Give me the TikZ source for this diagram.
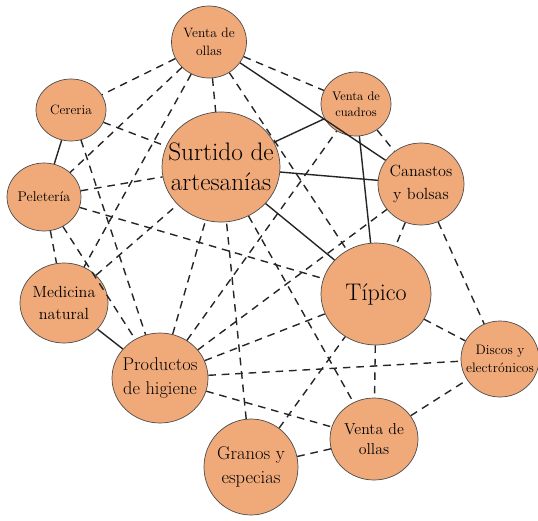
\documentclass[tikz,border=0pt]{standalone}
\usepackage{fontspec}
\usepackage{xcolor}
\usetikzlibrary{shapes.geometric}

\definecolor{stallfill}{RGB}{240,170,122}

\begin{document}
\begin{tikzpicture}[x=0.03cm, y=-0.03cm,
  stall/.style={draw=black!70, line width=0.6pt, fill=stallfill, ellipse, inner sep=0pt},
  txt/.style={align=center, text=black, inner sep=0pt},
  link/.style={line width=1.2pt, black!85},
  weak/.style={link, dash pattern=on 6.5pt off 5pt}
]
\useasboundingbox (0,0) rectangle (538,520);

% puestos
\node[stall, minimum width=2.25cm, minimum height=2.16cm] (ollas) at (209,42) {};
\node[stall, minimum width=2.1cm, minimum height=1.86cm] (cereria) at (71,110) {};
\node[stall, minimum width=3.54cm, minimum height=3.3cm] (surtido) at (221,167) {};
\node[stall, minimum width=2.22cm, minimum height=2.04cm] (peleteria) at (44,197) {};
\node[stall, minimum width=2.1cm, minimum height=1.92cm] (cuadros) at (356,104) {};
\node[stall, minimum width=2.58cm, minimum height=2.46cm] (canastos) at (421,184) {};
\node[stall, minimum width=3.3cm, minimum height=3.06cm] (tipico) at (376,294) {};
\node[stall, minimum width=2.34cm, minimum height=2.28cm] (discos) at (500,359) {};
\node[stall, minimum width=2.64cm, minimum height=2.46cm] (ollasb) at (374,439) {};
\node[stall, minimum width=2.82cm, minimum height=2.88cm] (granos) at (251,467) {};
\node[stall, minimum width=2.88cm, minimum height=2.7cm] (higiene) at (160,378) {};
\node[stall, minimum width=2.64cm, minimum height=2.4cm] (medicina) at (64,303) {};

% textos
\node[txt, font=\fontsize{11.6pt}{15pt}\selectfont] (tollas) at (ollas) {Venta de\\ollas};
\node[txt, font=\fontsize{11.5pt}{15pt}\selectfont] (tcereria) at (cereria) {Cereria};
\node[txt, font=\fontsize{21.6pt}{26pt}\selectfont] (tsurtido) at (surtido) {Surtido de\\artesanías};
\node[txt, font=\fontsize{12pt}{15pt}\selectfont] (tpeleteria) at (peleteria) {Peletería};
\node[txt, font=\fontsize{10.6pt}{14pt}\selectfont] (tcuadros) at (cuadros) {Venta de\\cuadros};
\node[txt, font=\fontsize{13.8pt}{19pt}\selectfont] (tcanastos) at (canastos) {Canastos\\y bolsas};
\node[txt, font=\fontsize{20.5pt}{26pt}\selectfont] (ttipico) at (tipico) {Típico};
\node[txt, font=\fontsize{11.7pt}{15.5pt}\selectfont] (tdiscos) at (discos) {Discos y\\electrónicos};
\node[txt, font=\fontsize{13.5pt}{17.5pt}\selectfont] (tollasb) at (ollasb) {Venta de\\ollas};
\node[txt, font=\fontsize{15.8pt}{20.5pt}\selectfont] (tgranos) at (granos) {Granos y\\especias};
\node[txt, font=\fontsize{15.7pt}{20pt}\selectfont] (thigiene) at (higiene) {Productos\\de higiene};
\node[txt, font=\fontsize{13.8pt}{18pt}\selectfont] (tmedicina) at (medicina) {Medicina\\natural};

% vinculos fuertes
\foreach \a/\b in {cereria/peleteria, medicina/higiene, ollas/canastos, surtido/cuadros,
                   surtido/canastos, cuadros/tipico, surtido/tipico}
  \draw[link] (\a) -- (\b);

% vinculos debiles
\foreach \a/\b in {ollas/cereria, ollas/cuadros, ollas/surtido, ollas/peleteria, ollas/medicina, ollas/tipico,
                   cereria/surtido, cereria/higiene,
                   peleteria/surtido, peleteria/medicina, peleteria/tipico, peleteria/higiene,
                   medicina/surtido,
                   higiene/surtido, higiene/cuadros, higiene/canastos, higiene/tipico, higiene/discos, higiene/ollasb,
                   granos/ollasb, granos/surtido, granos/tipico,
                   cuadros/canastos, canastos/tipico, canastos/discos,
                   surtido/ollasb, tipico/ollasb, tipico/discos, ollasb/discos}
  \draw[weak] (\a) -- (\b);
\end{tikzpicture}
\end{document}
